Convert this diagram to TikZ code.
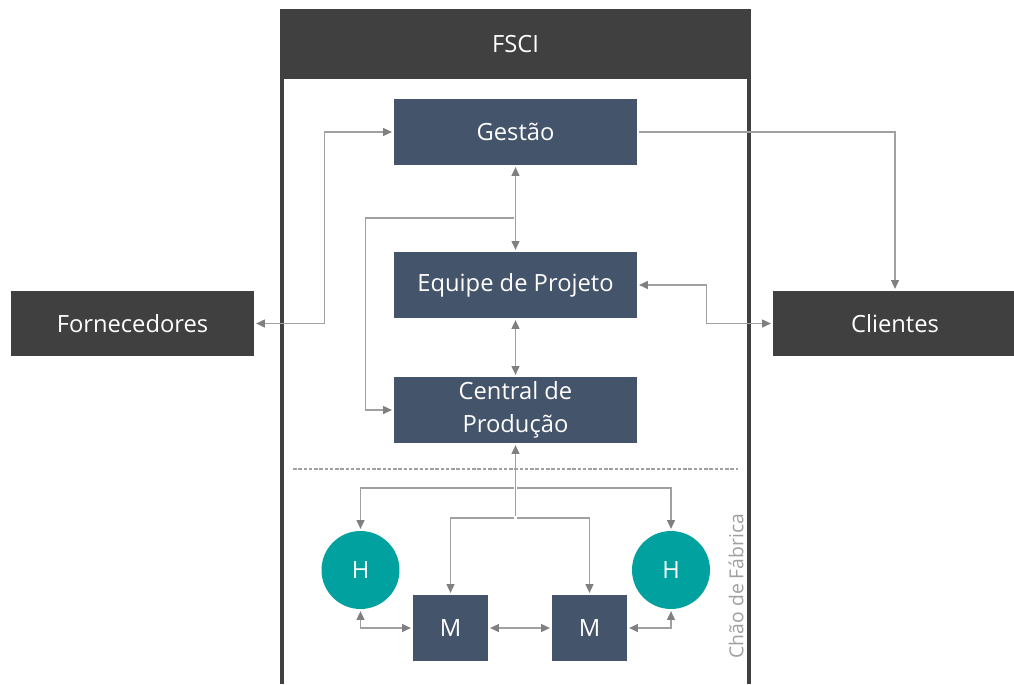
\documentclass[tikz,border=0pt]{standalone}
\usepackage{fontspec}
\setmainfont{Open Sans}
\usepackage{tikz}
\usetikzlibrary{arrows.meta}
\definecolor{slateblue}{HTML}{44546A}
\definecolor{fscigray}{HTML}{404040}
\definecolor{tealH}{HTML}{00A19E}
\definecolor{linegray}{HTML}{A0A0A0}
\definecolor{tipgray}{HTML}{808080}
\tikzset{
	proc/.style={fill=slateblue, text=white, inner sep=0pt, minimum width=4.86cm, minimum height=1.32cm, align=center, font=\fontsize{13.5}{18.5}\selectfont},
	outside/.style={fill=fscigray, text=white, inner sep=0pt, minimum width=4.86cm, minimum height=1.30cm, font=\fontsize{13.5}{18.5}\selectfont},
	machine/.style={fill=slateblue, text=white, inner sep=0pt, minimum width=1.5cm, minimum height=1.32cm, font=\fontsize{13.5}{18.5}\selectfont},
	human/.style={circle, fill=tealH, text=white, inner sep=0pt, minimum size=1.56cm, font=\fontsize{13.5}{18.5}\selectfont},
	link/.style={draw=linegray, line width=0.8pt, shorten >=1pt, shorten <=1pt, -{Triangle[length=5pt, width=4.5pt, color=tipgray]}},
	bilink/.style={link, {Triangle[length=5pt, width=4.5pt, color=tipgray]}-{Triangle[length=5pt, width=4.5pt, color=tipgray]}}
}

\begin{document}
\begin{tikzpicture}[x=0.02cm, y=-0.02cm]
	\useasboundingbox (0,0) rectangle (1014,684);
	% moldura FSCI
	\fill[fscigray] (280,9) rectangle (751,684);
	\fill[white] (284,79) rectangle (747,684);
	\node[text=white, font=\fontsize{13.5}{18.5}\selectfont] (fsci) at (515.5,44) {FSCI};

	\node[proc] (gestao) at (515.5,132) {Gestão};
	\node[proc] (equipe) at (515.5,285) {Equipe de Projeto};
	\node[proc] (central) at (515.5,410) {Central de\\Produção};
	\node[outside] (forn) at (132.5,323.5) {Fornecedores};
	\node[outside, minimum width=4.88cm] (cli) at (895,323.5) {Clientes};

	\draw[bilink] (gestao.west) -- ++(-69,0) |- (forn.east);
	\draw[link] (gestao.east) -| (cli.north);
	\draw[bilink] (gestao.south) -- (equipe.north);
	\coordinate (desvio) at (515.5,218);
	\draw[link] (desvio) -- ++(-150,0) |- (central.west);
	\draw[bilink] (equipe.east) -- ++(69,0) |- (cli.west);
	\draw[bilink] (equipe.south) -- (central.north);

	% chao de fabrica
	\draw[linegray, line width=0.6pt, dash pattern=on 2pt off 1pt] (293,469) -- (738,469);
	\node[rotate=90, text=linegray, font=\fontsize{11}{13}\selectfont] (chao) at (736,586) {Chão de Fábrica};

	\node[human] (hl) at (360.5,570) {H};
	\node[human] (hr) at (671,570) {H};
	\node[machine] (ml) at (450.5,628) {M};
	\node[machine] (mr) at (589.5,628) {M};

	\coordinate (hsplit) at (515.5,488);
	\coordinate (msplit) at (515.5,518);
	\draw[link] (msplit) -- (central.south);
	\draw[link] (hsplit) -| (hl.north);
	\draw[link] (hsplit) -| (hr.north);
	\draw[link] (msplit) -| (ml.north);
	\draw[link] (msplit) -| (mr.north);
	\draw[bilink] (hl.south) |- (ml.west);
	\draw[bilink] (ml.east) -- (mr.west);
	\draw[bilink] (mr.east) -| (hr.south);
\end{tikzpicture}
\end{document}
